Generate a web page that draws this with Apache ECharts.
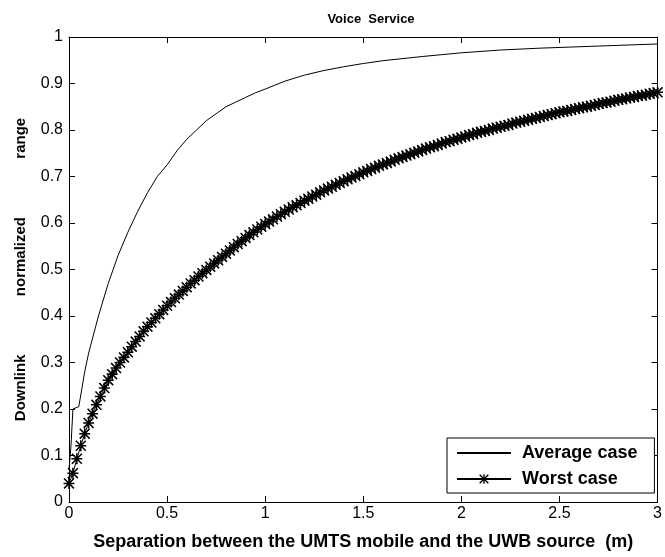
<!DOCTYPE html>
<html>
<head>
<meta charset="utf-8">
<script src="https://cdn.jsdelivr.net/npm/echarts@6/dist/echarts.min.js"></script>
<style>
  html, body { margin: 0; padding: 0; background: #fff; }
  #myChart { width: 665px; height: 557px; }
</style>
</head>
<body>
<div id="myChart"></div>
<script>
  // tick labels
  var xTicks = [0, 0.5, 1, 1.5, 2, 2.5, 3];
  var yTicks = [0, 0.1, 0.2, 0.3, 0.4, 0.5, 0.6, 0.7, 0.8, 0.9, 1];

  // Average case (thin line, no markers)
  var avgX = [0, 0.01, 0.02, 0.05, 0.08, 0.1, 0.15, 0.2, 0.25, 0.3, 0.35, 0.4, 0.45, 0.5, 0.55, 0.6,
    0.65, 0.7, 0.75, 0.8, 0.85, 0.9, 0.95, 1, 1.1, 1.2, 1.3, 1.4, 1.5, 1.6, 1.8, 2, 2.2, 2.4, 2.6, 2.8, 3];
  var avgY = [0.07, 0.12, 0.2, 0.205, 0.28, 0.32, 0.4, 0.47, 0.53, 0.58, 0.625, 0.665, 0.7, 0.725, 0.755, 0.78,
    0.8, 0.82, 0.835, 0.85, 0.86, 0.87, 0.88, 0.888, 0.905, 0.918, 0.928, 0.936, 0.943, 0.949, 0.958, 0.966,
    0.972, 0.976, 0.979, 0.982, 0.985];

  // Worst case (line with * markers)
  var worstX = [0, 0.02, 0.04, 0.06, 0.08, 0.1, 0.12, 0.14, 0.16, 0.18, 0.2, 0.22, 0.24, 0.26, 0.28, 0.3,
    0.32, 0.34, 0.36, 0.38, 0.4, 0.42, 0.44, 0.46, 0.48, 0.5, 0.52, 0.54, 0.56, 0.58, 0.6, 0.62, 0.64, 0.66,
    0.68, 0.7, 0.72, 0.74, 0.76, 0.78, 0.8, 0.82, 0.84, 0.86, 0.88, 0.9, 0.92, 0.94, 0.96, 0.98, 1, 1.02,
    1.04, 1.06, 1.08, 1.1, 1.12, 1.14, 1.16, 1.18, 1.2, 1.22, 1.24, 1.26, 1.28, 1.3, 1.32, 1.34, 1.36, 1.38,
    1.4, 1.42, 1.44, 1.46, 1.48, 1.5, 1.52, 1.54, 1.56, 1.58, 1.6, 1.62, 1.64, 1.66, 1.68, 1.7, 1.72, 1.74,
    1.76, 1.78, 1.8, 1.82, 1.84, 1.86, 1.88, 1.9, 1.92, 1.94, 1.96, 1.98, 2, 2.02, 2.04, 2.06, 2.08, 2.1,
    2.12, 2.14, 2.16, 2.18, 2.2, 2.22, 2.24, 2.26, 2.28, 2.3, 2.32, 2.34, 2.36, 2.38, 2.4, 2.42, 2.44, 2.46,
    2.48, 2.5, 2.52, 2.54, 2.56, 2.58, 2.6, 2.62, 2.64, 2.66, 2.68, 2.7, 2.72, 2.74, 2.76, 2.78, 2.8, 2.82,
    2.84, 2.86, 2.88, 2.9, 2.92, 2.94, 2.96, 2.98, 3];
  var worstY = [0.040, 0.062, 0.093, 0.121, 0.147, 0.170, 0.190, 0.209, 0.227, 0.245, 0.262, 0.275, 0.288,
    0.300, 0.311, 0.322, 0.334, 0.345, 0.356, 0.367, 0.377, 0.386, 0.395, 0.404, 0.413, 0.422, 0.430, 0.438,
    0.446, 0.454, 0.462, 0.470, 0.477, 0.485, 0.492, 0.499, 0.506, 0.513, 0.520, 0.527, 0.534, 0.541, 0.548,
    0.555, 0.561, 0.568, 0.574, 0.580, 0.586, 0.592, 0.598, 0.603, 0.608, 0.614, 0.619, 0.624, 0.629, 0.634,
    0.638, 0.643, 0.648, 0.652, 0.657, 0.661, 0.666, 0.670, 0.674, 0.678, 0.682, 0.686, 0.690, 0.694, 0.698,
    0.701, 0.705, 0.709, 0.712, 0.716, 0.719, 0.723, 0.726, 0.729, 0.732, 0.736, 0.739, 0.742, 0.745, 0.748,
    0.751, 0.754, 0.757, 0.760, 0.763, 0.765, 0.768, 0.771, 0.774, 0.776, 0.779, 0.781, 0.784, 0.786, 0.789,
    0.791, 0.794, 0.796, 0.798, 0.800, 0.803, 0.805, 0.807, 0.809, 0.811, 0.814, 0.816, 0.818, 0.820, 0.822,
    0.824, 0.826, 0.828, 0.830, 0.832, 0.834, 0.836, 0.838, 0.840, 0.841, 0.843, 0.845, 0.847, 0.849, 0.850,
    0.852, 0.854, 0.856, 0.858, 0.859, 0.861, 0.863, 0.865, 0.866, 0.868, 0.870, 0.871, 0.873, 0.874, 0.876,
    0.878, 0.879, 0.881];

  var seriesNames = ['Average case', 'Worst case'];

  function pairs(xs, ys) {
    return xs.map(function (x, i) { return [x, ys[i]]; });
  }

  // matlab style '*' marker
  var starPath = 'path://M43,0L57,0L57,100L43,100Z M0,43L100,43L100,57L0,57Z ' +
    'M10,0L100,90L90,100L0,10Z M90,0L100,10L10,100L0,90Z';

  var FONT = '"Liberation Sans", Arial, sans-serif';

  var myChart = echarts.init(document.getElementById('myChart'), null, {renderer: 'canvas'});

  var xBase = {
    type: 'value',
    min: xTicks[0],
    max: xTicks[xTicks.length - 1],
    interval: 0.5,
    splitLine: {show: false},
    axisLine: {onZero: false, lineStyle: {color: '#000', width: 1}},
    axisTick: {inside: true, length: 6, lineStyle: {color: '#000'}}
  };
  var yBase = {
    type: 'value',
    min: yTicks[0],
    max: yTicks[yTicks.length - 1],
    interval: 0.1,
    splitLine: {show: false},
    axisLine: {onZero: false, lineStyle: {color: '#000', width: 1}},
    axisTick: {inside: true, length: 6, lineStyle: {color: '#000'}}
  };

  myChart.setOption({
    backgroundColor: '#fff',
    animation: false,
    title: {
      text: 'Voice  Service',
      left: 366,
      top: 8,
      textAlign: 'center',
      textStyle: {fontFamily: FONT, fontSize: 13, fontWeight: 'bold', color: '#000'}
    },
    legend: {
      data: [{name: seriesNames[0], itemStyle: {opacity: 0}}, {name: seriesNames[1]}],
      orient: 'vertical',
      left: 447,
      top: 438,
      padding: [6, 17, 5, 9],
      itemWidth: 54,
      itemHeight: 12,
      itemGap: 8,
      borderColor: '#000',
      borderWidth: 1,
      borderRadius: 0,
      backgroundColor: '#fff',
      textStyle: {fontFamily: FONT, fontSize: 18, lineHeight: 18, fontWeight: 'bold', color: '#000',
        padding: [0, 0, 0, 6]}
    },
    grid: {left: 69, right: 2, top: 37, bottom: 55, containLabel: false},
    xAxis: [
      Object.assign({}, xBase, {
        position: 'bottom',
        name: 'Separation between the UMTS mobile and the UWB source  (m)',
        nameLocation: 'middle',
        nameGap: 31,
        nameTextStyle: {fontFamily: FONT, fontSize: 18, fontWeight: 'bold', color: '#000'},
        axisLabel: {fontFamily: FONT, fontSize: 16, color: '#000', margin: 4}
      }),
      Object.assign({}, xBase, {position: 'top', axisLabel: {show: false}})
    ],
    yAxis: [
      Object.assign({}, yBase, {
        position: 'left',
        name: 'Downlink              normalized              range',
        nameLocation: 'middle',
        nameGap: 41,
        nameTextStyle: {fontFamily: FONT, fontSize: 15, fontWeight: 'bold', color: '#000'},
        axisLabel: {fontFamily: FONT, fontSize: 16, color: '#000', margin: 6}
      }),
      Object.assign({}, yBase, {position: 'right', axisLabel: {show: false}})
    ],
    series: [
      {
        name: seriesNames[0],
        type: 'line',
        xAxisIndex: 0,
        yAxisIndex: 0,
        data: pairs(avgX, avgY),
        showSymbol: false,
        symbol: 'none',
        lineStyle: {color: '#000', width: 1},
        itemStyle: {color: '#000'}
      },
      {
        name: seriesNames[1],
        type: 'line',
        xAxisIndex: 0,
        yAxisIndex: 0,
        data: pairs(worstX, worstY),
        symbol: starPath,
        symbolSize: 11,
        showAllSymbol: true,
        lineStyle: {color: '#000', width: 1},
        itemStyle: {color: '#000'}
      }
    ]
  });
</script>
</body>
</html>
